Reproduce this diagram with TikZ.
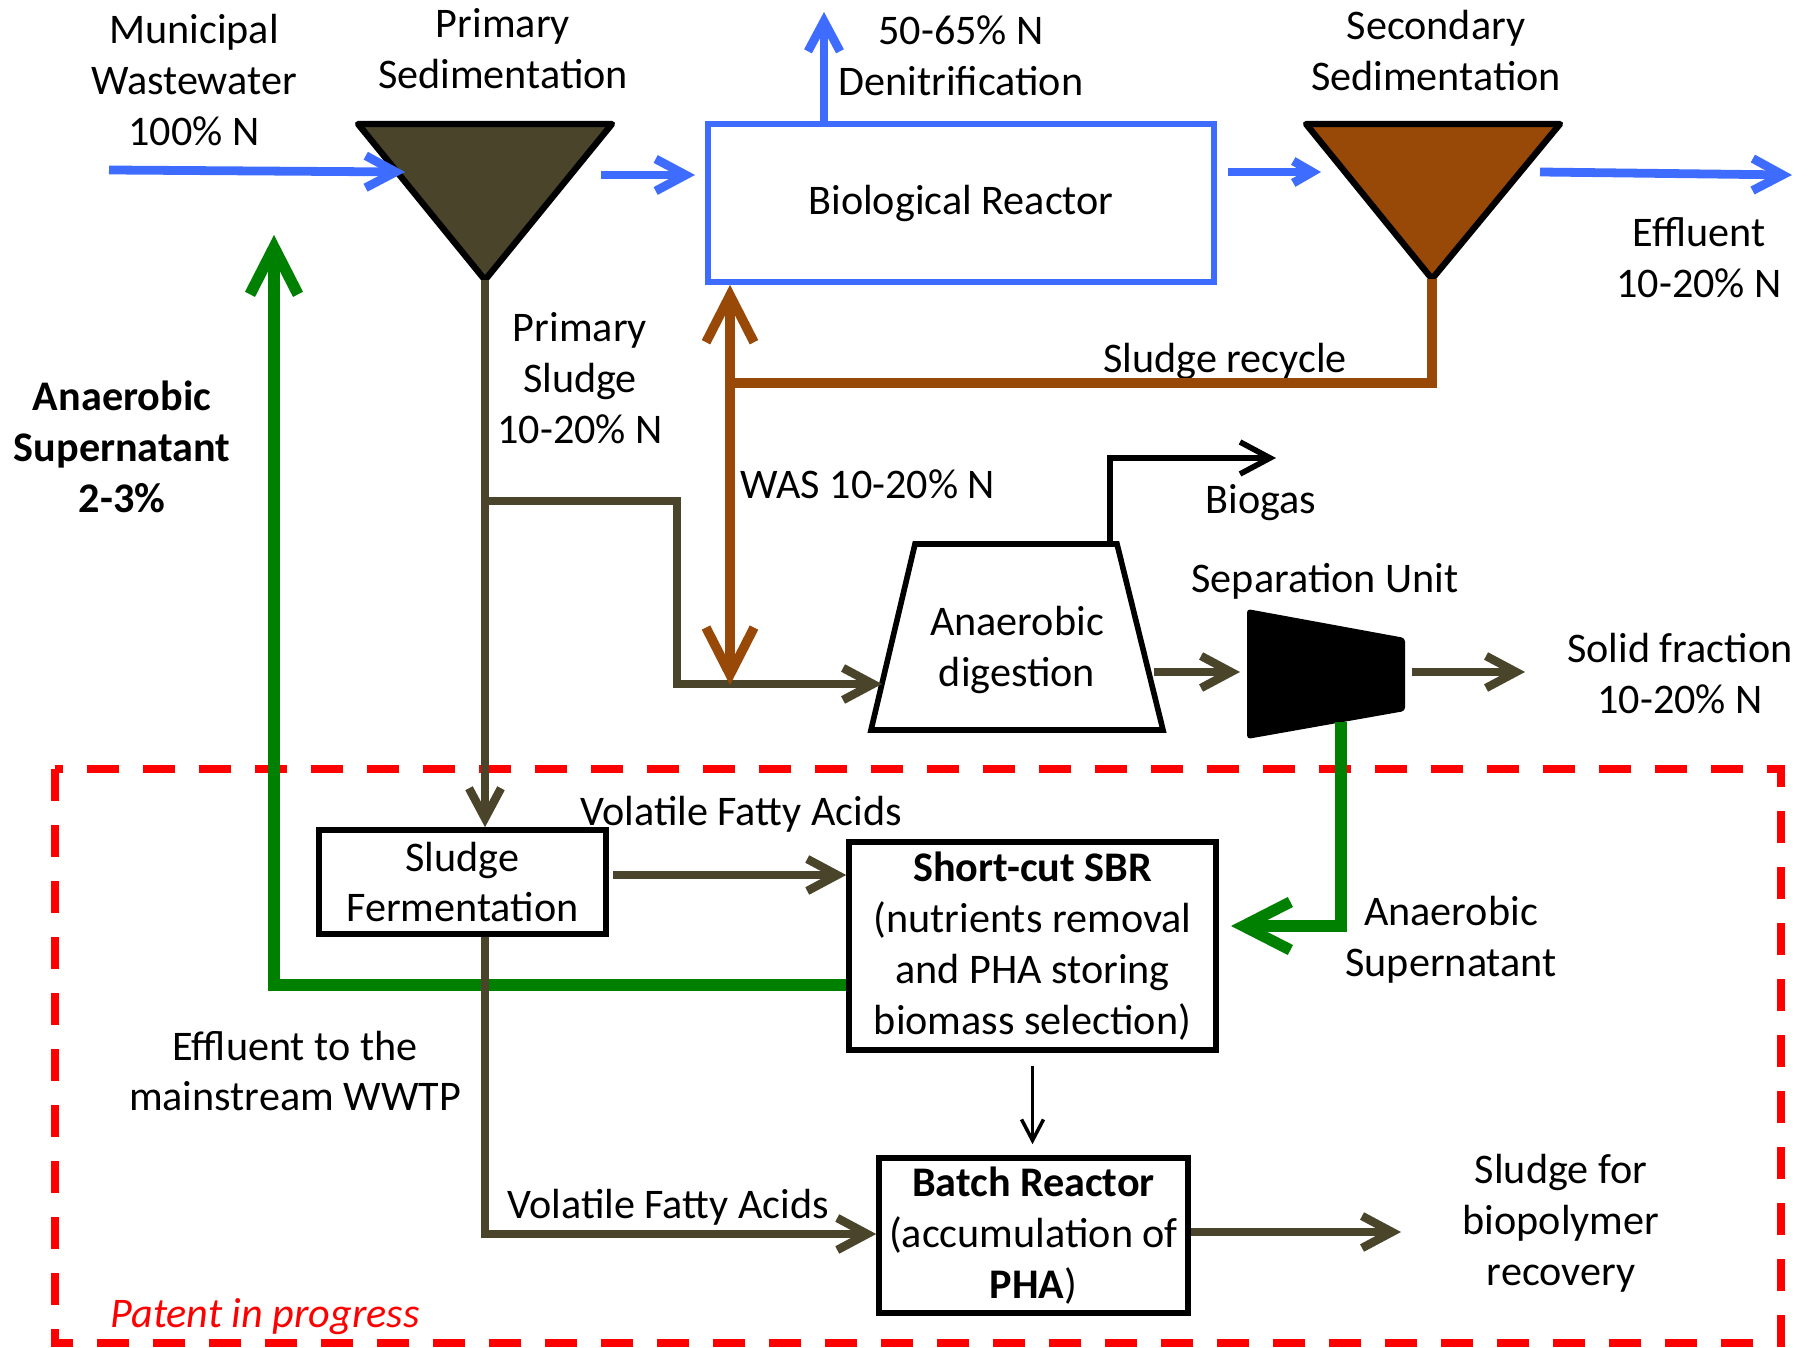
\documentclass[tikz,border=0pt]{standalone}
\usepackage{fontspec}
\setmainfont{Carlito}
\usetikzlibrary{arrows.meta}
\definecolor{fblue}{RGB}{61,108,255}
\definecolor{folive}{RGB}{74,69,42}
\definecolor{fbrown}{RGB}{152,72,7}
\definecolor{fgreen}{RGB}{0,128,0}
\tikzset{
	every node/.style={font=\fontsize{12}{14.5}\selectfont,inner sep=0pt,align=center},
	barb/.tip={Straight Barb[length=3mm,width=3.2mm]},
	smallbarb/.tip={Straight Barb[length=1.9mm,width=2.2mm]},
	bigbarb/.tip={Straight Barb[length=4.7mm,width=4.8mm]},
	unitbox/.style={rectangle,draw,line width=1.6pt},
	settler/.style={draw=black,line width=1.8pt,line join=round},
	water/.style={fblue,line width=2.5pt,-barb},
	sludge/.style={folive,line width=2.4pt},
	recycle/.style={fbrown,line width=2.7pt},
	supern/.style={fgreen,line width=3.2pt,-bigbarb}
}
\begin{document}
\begin{tikzpicture}[x=0.1mm,y=-0.1mm]
	\useasboundingbox (0,0) rectangle (1812,1348);
	%patent region
	\draw[red,line width=2.1pt,dash pattern=on 3.2mm off 2.4mm] (55,769) rectangle (1781,1343);
	%settlers, digester, separator
	\draw[settler,fill=folive] (358,124)--(612,124)--(485,280)coordinate(p)--cycle;
	\draw[settler,fill=fbrown] (1306,124)--(1560,124)--(1432,279)coordinate(s)--cycle;
	\draw[line width=1.6pt] (871,730)--(915,544)--(1117,544)--(1163,730)--cycle;
	\fill[rounded corners=1pt] (1247,609)--(1405,638)--(1405,711)--(1247,739)--cycle;
	\path (961,203) node(a)[unitbox,draw=fblue,line width=1.6pt,minimum width=50.6mm,minimum height=15.8mm]{\raisebox{-1pt}{Biological Reactor}}
	(462.5,882) node(b)[unitbox,minimum width=28.7mm,minimum height=10.4mm]{Sludge\\Fermentation}
	(1032.5,946) node(c)[unitbox,minimum width=36.7mm,minimum height=20.8mm]{\textbf{Short-cut SBR}\\(nutrients removal\\and PHA storing\\biomass selection)}
	(1033.5,1235.5) node(d)[unitbox,minimum width=30.9mm,minimum height=15.5mm]{\textbf{Batch Reactor}\\(accumulation of\\\textbf{PHA})}
	(1017,650) node(e){Anaerobic\\digestion};
	%labels
	\path (194,80) node(m){Municipal\\Wastewater\\100\% N}
	(503,49) node(n){Primary\\Sedimentation}
	(961,56) node(o){50-65\% N\\Denitrification}
	(1436,51) node(q){Secondary\\Sedimentation}
	(1699,258) node(r){Effluent\\10-20\% N}
	(580,378) node(t){Primary\\Sludge\\10-20\% N}
	(122,447) node(u){\textbf{Anaerobic}\\\textbf{Supernatant}\\\textbf{2-3\%}}
	(1225,361) node(v){Sludge recycle}
	(740,484) node(w)[anchor=west]{WAS 10-20\% N}
	(1261,503) node(x){Biogas}
	(1325,581) node(y){Separation Unit}
	(1680,674) node(z){Solid fraction\\10-20\% N}
	(741,814) node(f){Volatile Fatty Acids}
	(1451,940) node(g){Anaerobic\\Supernatant}
	(295,1071) node(h){Effluent to the\\mainstream WWTP}
	(668,1207) node(i){Volatile Fatty Acids}
	(1561,1223) node(j){Sludge for\\biopolymer\\recovery}
	(265,1317) node(k)[text=red]{\itshape Patent in progress};
	%free ends
	\coordinate (w1) at (109,170); \coordinate (w2) at (405,172);
	\coordinate (w3) at (601,175); \coordinate (w4) at (695,175);
	\coordinate (w5) at (824,12);
	\coordinate (w6) at (1228,172); \coordinate (w7) at (1321,172);
	\coordinate (w8) at (1540,172); \coordinate (w9) at (1792,175);
	\coordinate (r1) at (730,383); \coordinate (r2) at (730,685);
	\coordinate (k1) at (485,501); \coordinate (k2) at (677,684); \coordinate (k3) at (882,684);
	\coordinate (k4) at (1154,672); \coordinate (k5) at (1240,672);
	\coordinate (k6) at (1412,672); \coordinate (k7) at (1525,672);
	\coordinate (g1) at (1110,544); \coordinate (g2) at (1276,458);
	\coordinate (h1) at (1341,722); \coordinate (h2) at (1231,926);
	\coordinate (h3) at (274,235); \coordinate (h4) at (274,985);
	\coordinate (v1) at (613,875); \coordinate (v2) at (485,1234); \coordinate (v3) at (1401,1232);
	%water line
	\draw[water](w1)--(w2);
	\draw[water](w3)--(w4);
	\draw[water](a.north-|w5)--(w5);
	\draw[fblue,line width=2.5pt,-smallbarb](w6)--(w7);
	\draw[water](w8)--(w9);
	%supernatant
	\draw[supern](h1)|-(h2);
	\draw[supern](c.west|-h4)--(h4)--(h3);
	%sludge lines
	\draw[sludge,-barb](p)--(p|-b.north);
	\draw[sludge,-barb](k1)-|(k2)--(k3);
	\draw[sludge,-barb](k4)--(k5);
	\draw[sludge,-barb](k6)--(k7);
	\draw[sludge,-barb](v1)--(v1-|c.west);
	\draw[sludge,-barb](b.south-|v2)--(v2)--(v2-|d.west);
	\draw[sludge,-barb](d.east|-v3)--(v3);
	\draw[recycle](s)|-(r1);
	\draw[recycle,bigbarb-bigbarb](r2)--(r2|-a.south);
	\draw[line width=1.6pt,-barb](g1)|-(g2);
	\draw[line width=1pt,-{Straight Barb[length=2.1mm,width=2.2mm]},shorten <=1.3mm,shorten >=1.1mm](c.south)--(c.south|-d.north);
\end{tikzpicture}
\end{document}
